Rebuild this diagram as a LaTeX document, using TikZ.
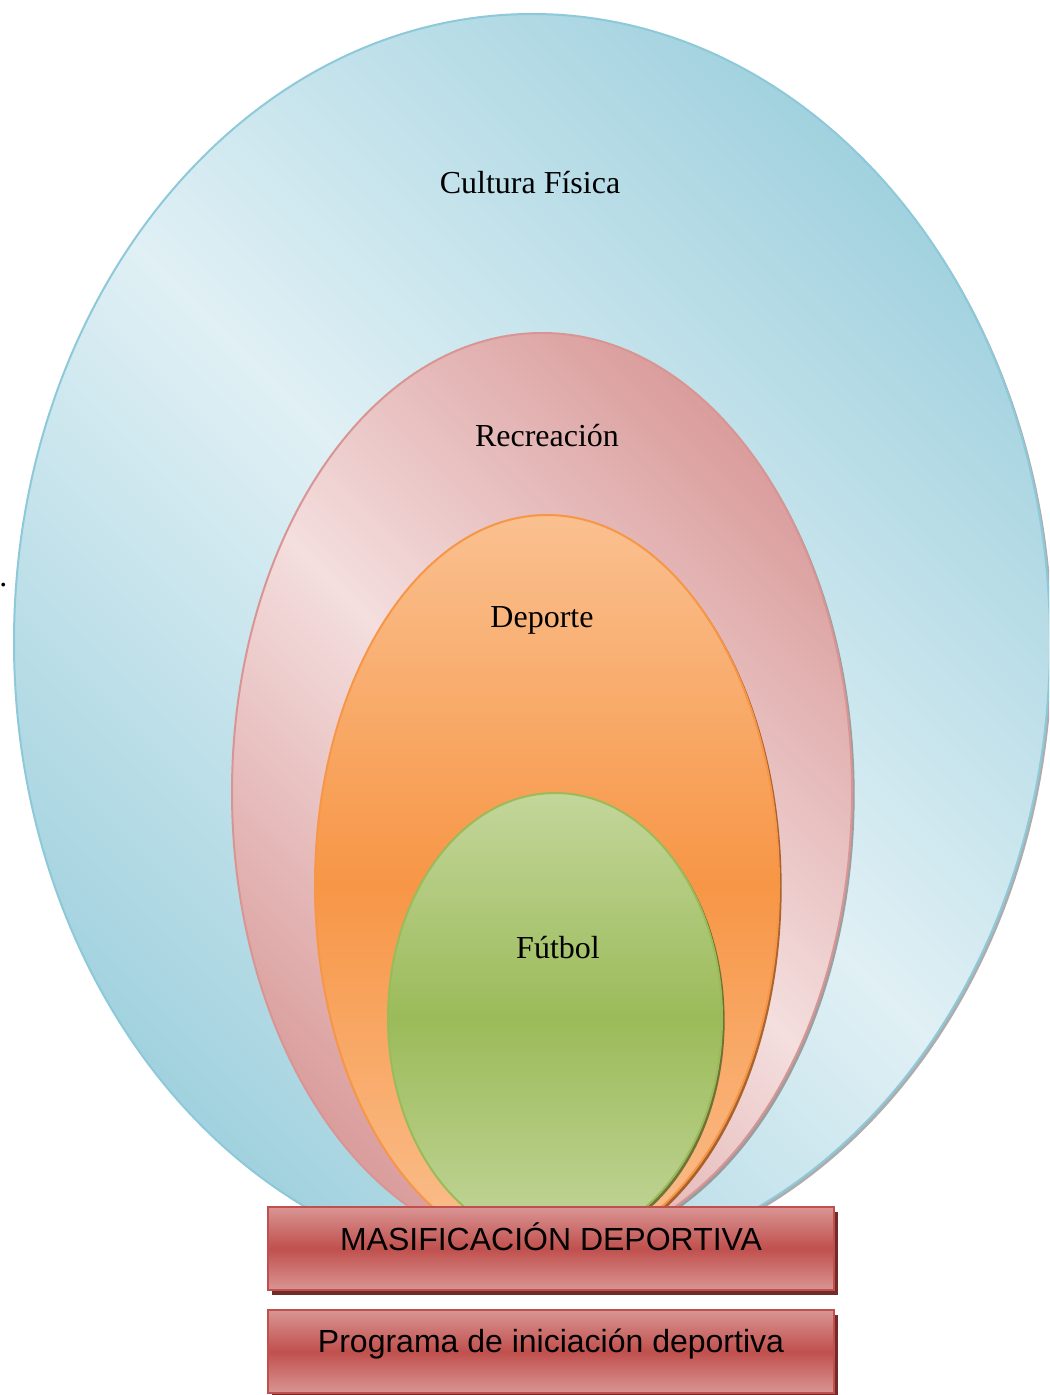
\documentclass[tikz,border=0pt]{standalone}
\usepackage{fontspec}
\setmainfont{Liberation Serif}
\setsansfont{Liberation Sans}
\usepackage{tikz}
\usetikzlibrary{shadows}

\definecolor{azulO}{HTML}{A2D2DF}
\definecolor{azulC}{HTML}{E0F0F5}
\definecolor{azulB}{HTML}{8DC9D9}
\definecolor{rosaO}{HTML}{DA9E9D}
\definecolor{rosaC}{HTML}{F4DEDE}
\definecolor{rosaB}{HTML}{D99594}
\definecolor{naranjaC}{HTML}{FAC090}
\definecolor{naranjaM}{HTML}{F79646}
\definecolor{naranjaS}{HTML}{984807}
\definecolor{verdeC}{HTML}{C3D69B}
\definecolor{verdeM}{HTML}{9BBB59}
\definecolor{verdeS}{HTML}{4F6228}
\definecolor{rojoC}{HTML}{D99594}
\definecolor{rojoM}{HTML}{C0504D}
\definecolor{rojoS}{HTML}{722B29}

\begin{document}
\begin{tikzpicture}[
  x=0.75pt, y=-0.75pt,
  every node/.style = {font=\fontsize{24}{29}\selectfont},
  capa/.style    = {line width=1.5pt},
  sombra/.style  = {drop shadow={shadow xshift=2pt, shadow yshift=-2pt,
                    fill=#1, opacity=.8}},
  diagonal/.style 2 args = {top color=#1, bottom color=#1, middle color=#2,
                    shading angle=-45},
  vertical/.style 2 args = {top color=#1, bottom color=#1, middle color=#2},
  rotulo/.style  = {anchor=base, inner sep=0pt},
  franja/.style  = {draw=rojoM, line width=1.2pt, inner sep=0pt,
                    minimum width=424.5pt, minimum height=62.25pt,
                    vertical={rojoC}{rojoM},
                    drop shadow={shadow xshift=3pt, shadow yshift=-4pt,
                    fill=rojoS, opacity=1}},
  texto/.style   = {anchor=base, inner sep=0pt, font=\sffamily\fontsize{24}{29}\selectfont}
]
\useasboundingbox (0,0) rectangle (1049,1395);
\clip (0,0) rectangle (1049,1395);

% nested sets, outermost first
\shade[capa, draw=azulB, diagonal={azulO}{azulC}, sombra=gray!80]
  (532,642) ellipse [x radius=518, y radius=628];
\shade[capa, draw=rosaB, diagonal={rosaO}{rosaC}, sombra=gray!90]
  (542,792) ellipse [x radius=310, y radius=459];
\shade[capa, draw=naranjaM, vertical={naranjaC}{naranjaM}, sombra=naranjaS]
  (547,885) ellipse [x radius=232, y radius=370];
\shade[capa, draw=verdeM, vertical={verdeC}{verdeM}, sombra=verdeS]
  (555,1018) ellipse [x radius=167, y radius=225];

\node[rotulo] (cultura)    at (530,193) {Cultura Física};
\node[rotulo] (recreacion) at (547,446) {Recreación};
\node[rotulo] (deporte)    at (542,627) {Deporte};
\node[rotulo] (futbol)     at (558,958) {Fútbol};

\node[rotulo, anchor=base west] (punto) at (-1,586) {.};

% bars under the sets
\node[franja] (masif)    at (551,1248.5) {};
\node[franja] (programa) at (551,1351.5) {};

\node[texto] (masiftxt)    at (551,1250) {MASIFICACIÓN DEPORTIVA};
\node[texto] (programatxt) at (551,1352) {Programa de iniciación deportiva};

\end{tikzpicture}
\end{document}
